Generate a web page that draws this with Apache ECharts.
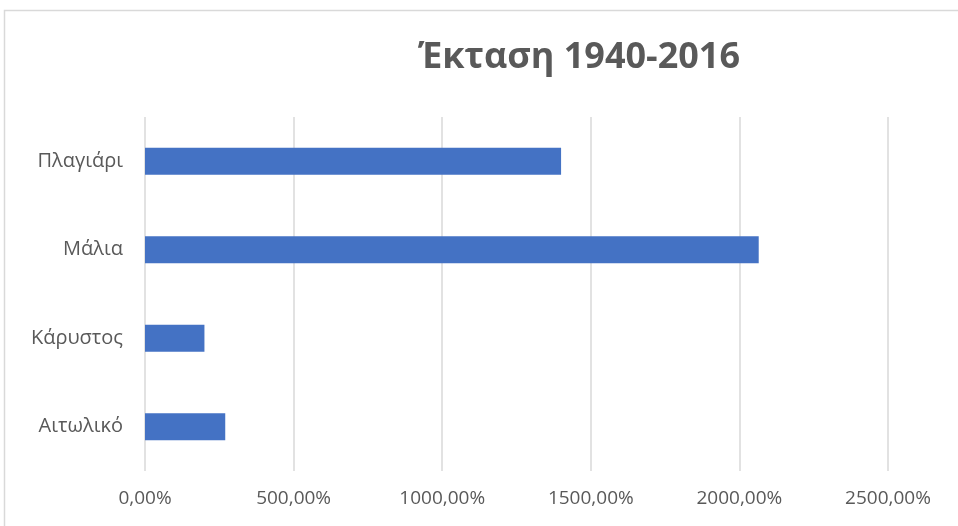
<!DOCTYPE html>
<html>
<head>
<meta charset="utf-8">
<script src="https://cdn.jsdelivr.net/npm/echarts@6/dist/echarts.min.js"></script>
<style>
  html, body { margin: 0; padding: 0; background: #ffffff; }
  #chart { width: 958px; height: 526px; }
</style>
</head>
<body>
<div id="chart"></div>
<script>
// Areas, listed top to bottom
const categories = ['Πλαγιάρι', 'Μάλια', 'Κάρυστος', 'Αιτωλικό'];
// Change in area 1940-2016 (%)
const values = [1400, 2065, 200, 270];
// Percentage axis
const axisMin = 0;
const axisMax = 2500;
const axisStep = 500;

const chart = echarts.init(document.getElementById('chart'), null, { renderer: 'canvas' });

const fmtPct = v => v.toFixed(2).replace('.', ',') + '%';
const FONT = '"Open Sans", "Noto Sans", sans-serif';

chart.setOption({
  backgroundColor: '#ffffff',
  animation: false,
  title: {
    text: 'Έκταση 1940-2016',
    left: 574,
    top: 35,
    textAlign: 'center',
    textStyle: {
      fontFamily: FONT,
      fontWeight: 'bold',
      fontSize: 36,
      color: '#595959'
    }
  },
  graphic: [{
    type: 'rect',
    shape: { x: 4.5, y: 10.5, width: 1000, height: 600 },
    style: { fill: 'none', stroke: '#d9d9d9', lineWidth: 1.5 },
    silent: true,
    z: 0
  }],
  grid: { left: 145, right: 70, top: 117, bottom: 55, containLabel: false },
  xAxis: {
    type: 'value',
    min: axisMin,
    max: axisMax,
    interval: axisStep,
    axisLine: { show: false },
    axisTick: { show: false },
    splitLine: { show: true, lineStyle: { color: '#d9d9d9', width: 1.5 } },
    axisLabel: {
      formatter: fmtPct,
      margin: 18,
      fontFamily: FONT,
      fontSize: 19,
      color: '#595959'
    }
  },
  yAxis: {
    type: 'category',
    data: categories,
    inverse: true,
    axisLine: { show: false },
    axisTick: { show: false },
    axisLabel: {
      margin: 22,
      fontFamily: FONT,
      fontSize: 20,
      color: '#595959'
    }
  },
  series: [{
    type: 'bar',
    data: values,
    barWidth: 27,
    itemStyle: { color: '#4472C4' }
  }]
});
</script>
</body>
</html>
